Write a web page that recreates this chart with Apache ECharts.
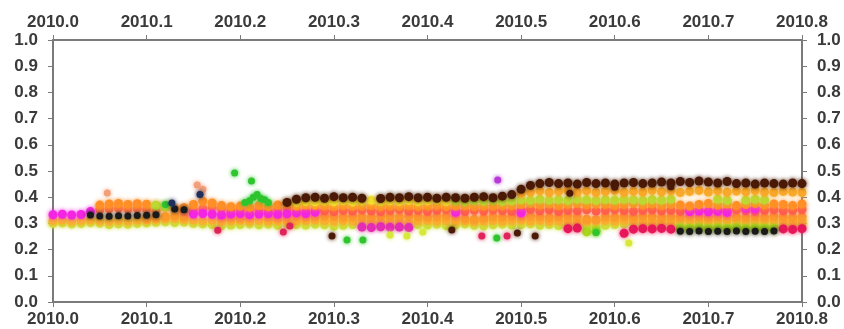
<!DOCTYPE html>
<html>
<head>
<meta charset="utf-8">
<script src="https://cdn.jsdelivr.net/npm/echarts@6/dist/echarts.min.js"></script>
<style>
  html, body { margin: 0; padding: 0; background: #fff; }
  #chart { width: 844px; height: 329px; }
</style>
</head>
<body>
<div id="chart"></div>
<script>
// sample times (decimal year)
const years = [
  2010.00, 2010.01, 2010.02, 2010.03, 2010.04, 2010.05, 2010.06, 2010.07, 2010.08, 2010.09,
  2010.10, 2010.11, 2010.12, 2010.13, 2010.14, 2010.15, 2010.16, 2010.17, 2010.18, 2010.19,
  2010.20, 2010.21, 2010.22, 2010.23, 2010.24, 2010.25, 2010.26, 2010.27, 2010.28, 2010.29,
  2010.30, 2010.31, 2010.32, 2010.33, 2010.34, 2010.35, 2010.36, 2010.37, 2010.38, 2010.39,
  2010.40, 2010.41, 2010.42, 2010.43, 2010.44, 2010.45, 2010.46, 2010.47, 2010.48, 2010.49,
  2010.50, 2010.51, 2010.52, 2010.53, 2010.54, 2010.55, 2010.56, 2010.57, 2010.58, 2010.59,
  2010.60, 2010.61, 2010.62, 2010.63, 2010.64, 2010.65, 2010.66, 2010.67, 2010.68, 2010.69,
  2010.70, 2010.71, 2010.72, 2010.73, 2010.74, 2010.75, 2010.76, 2010.77, 2010.78, 2010.79,
  2010.80
];
const n = null;

// one value per sample time for each station band
const lightGreen = [
  0.300, 0.302, 0.298, 0.300, 0.303, 0.301, 0.296, 0.298, 0.297, 0.300,
  0.302, 0.304, 0.306, 0.303, 0.305, 0.300, 0.298, 0.296, 0.292, 0.294,
  0.296, 0.298, 0.295, 0.297, 0.293, 0.298, 0.296, 0.294, 0.297, 0.295,
  0.290, 0.293, 0.296, 0.294, 0.297, 0.292, 0.295, 0.293, 0.290, 0.296,
  0.294, 0.297, 0.292, 0.295, 0.298, 0.293, 0.291, 0.295, 0.297, 0.294,
  0.296, 0.298, 0.293, 0.296, 0.292, 0.295, 0.297, 0.290, 0.286, 0.293,
  0.296, 0.298, 0.300, 0.297, 0.295, 0.298, 0.300, 0.290, 0.291, 0.290,
  0.292, 0.290, 0.291, 0.293, 0.290, 0.292, 0.291, 0.290, 0.294, 0.296,
  0.298
];
const baseOrange = [
  0.310, 0.312, 0.309, 0.311, 0.313, 0.310, 0.308, 0.311, 0.309, 0.312,
  0.314, 0.316, 0.318, 0.320, 0.316, 0.313, 0.310, 0.312, 0.308, 0.310,
  0.312, 0.309, 0.311, 0.308, 0.310, 0.312, 0.309, 0.311, 0.313, 0.310,
  0.308, 0.311, 0.309, 0.312, 0.310, 0.307, 0.311, 0.309, 0.306, 0.310,
  0.312, 0.309, 0.311, 0.308, 0.310, 0.307, 0.309, 0.311, 0.308, 0.310,
  0.312, 0.309, 0.311, 0.308, 0.310, 0.312, 0.309, 0.307, 0.310, 0.312,
  0.309, 0.311, 0.313, 0.310, 0.308, 0.311, 0.309, 0.312, 0.310, 0.308,
  0.311, 0.309, 0.312, 0.310, 0.308, 0.311, 0.309, 0.312, 0.310, 0.308,
  0.311
];
const midOrange = [
  n, n, n, n, n, n, n, n, n, n,
  0.318, 0.322, 0.326, 0.330, 0.325, n, n, n, 0.320, 0.322,
  0.320, 0.322, n, 0.323, 0.320, 0.324, 0.326, 0.323, 0.325, 0.328,
  0.326, 0.324, 0.327, 0.325, 0.323, 0.326, 0.328, 0.324, 0.327, 0.325,
  0.323, 0.326, 0.328, 0.324, 0.318, 0.316, 0.320, 0.326, 0.324, 0.327,
  0.325, 0.328, 0.326, 0.323, 0.326, 0.328, 0.325, 0.316, 0.314, 0.326,
  0.324, 0.327, 0.325, 0.328, 0.326, 0.323, 0.326, 0.324, 0.327, 0.325,
  0.323, 0.326, 0.328, 0.325, 0.323, 0.326, 0.324, 0.327, 0.325, 0.323,
  0.326
];
const salmon = [
  n, n, n, n, n, 0.352, 0.356, 0.358, 0.355, 0.357,
  0.354, 0.350, n, n, 0.345, 0.350, 0.356, 0.360, 0.355, 0.348,
  0.352, 0.356, 0.350, 0.347, 0.352, 0.355, 0.350, 0.346, n, n,
  n, n, n, n, n, n, n, n, n, n,
  n, n, n, n, n, n, n, n, n, n,
  n, n, n, n, n, n, n, n, n, n,
  n, n, n, n, n, n, n, n, n, n,
  n, n, n, n, n, n, n, n, n, n,
  n
];
const rose = [
  n, n, n, n, n, n, n, n, n, n,
  n, n, n, n, n, n, n, n, n, n,
  n, n, n, n, n, n, n, n, 0.350, 0.348,
  0.345, 0.350, 0.347, 0.352, 0.348, 0.345, 0.350, 0.353, 0.347, 0.350,
  0.346, 0.350, 0.353, 0.348, 0.345, 0.350, 0.347, 0.352, 0.349, 0.346,
  0.350, 0.353, 0.348, 0.352, 0.346, 0.350, 0.348, 0.352, 0.347, 0.350,
  0.353, 0.349, 0.346, 0.350, 0.352, 0.348, 0.350, 0.346, 0.352, 0.349,
  0.347, 0.351, 0.348, 0.352, 0.349, 0.346, 0.350, 0.352, 0.348, 0.350,
  0.353
];
const orange = [
  n, n, n, n, n, 0.370, 0.374, 0.376, 0.372, 0.375,
  0.373, 0.368, 0.362, 0.356, 0.360, 0.372, 0.385, 0.378, 0.368, 0.364,
  0.366, 0.362, 0.368, 0.364, 0.370, 0.374, 0.366, 0.370, 0.368, 0.366,
  0.364, 0.367, 0.365, 0.366, 0.368, 0.364, 0.366, 0.365, 0.367, 0.364,
  0.366, 0.368, 0.364, 0.366, 0.367, 0.364, 0.366, 0.365, 0.367, 0.368,
  0.372, 0.376, 0.370, 0.374, 0.368, 0.372, 0.376, 0.370, 0.374, 0.372,
  0.368, 0.372, 0.376, 0.370, 0.374, 0.368, 0.372, 0.370, 0.366, 0.372,
  0.376, 0.370, 0.374, 0.368, 0.372, 0.376, 0.370, 0.374, 0.372, 0.368,
  0.374
];
const magenta = [
  0.333, 0.335, 0.332, 0.334, 0.345, n, n, n, n, n,
  n, n, n, n, n, 0.336, 0.338, 0.335, 0.332, 0.336,
  0.338, 0.334, 0.336, 0.338, 0.335, 0.337, 0.340, 0.338, 0.343, n,
  n, n, n, n, n, n, n, n, n, n,
  n, n, n, 0.342, n, n, n, n, n, n,
  0.340, n, n, n, n, n, n, n, n, n,
  n, n, n, n, n, n, n, n, 0.345, 0.347,
  0.344, 0.346, 0.342, n, 0.358, 0.356, n, n, n, n,
  n
];
const upperYellow = [
  n, n, n, n, n, n, n, n, n, n,
  n, n, n, n, n, n, n, n, n, n,
  n, n, n, n, n, n, 0.380, 0.384, 0.382, 0.385,
  0.383, 0.386, 0.382, 0.385, 0.388, 0.383, 0.386, 0.384, 0.387, 0.383,
  0.386, 0.388, 0.384, n, n, n, n, n, n, n,
  n, n, n, n, n, n, n, n, n, n,
  n, n, n, n, n, n, n, n, n, n,
  n, n, n, n, n, n, n, n, n, n,
  n
];
const yellowGreen = [
  n, n, n, n, n, n, n, n, n, n,
  n, 0.368, 0.365, n, n, n, n, n, n, n,
  n, n, n, n, n, n, n, n, n, n,
  n, n, n, n, n, n, n, n, n, n,
  n, n, n, 0.386, 0.383, 0.387, 0.385, 0.388, 0.384, 0.386,
  0.390, 0.388, 0.392, 0.389, 0.391, 0.388, 0.392, 0.390, 0.388, 0.391,
  0.389, 0.392, 0.390, 0.388, 0.391, 0.389, 0.392, n, n, n,
  n, 0.392, 0.388, n, 0.389, 0.392, 0.390, n, n, n,
  n
];
const upperOrange = [
  n, n, n, n, n, n, n, n, n, n,
  n, n, n, n, n, n, n, n, n, n,
  n, n, n, n, n, n, n, n, n, n,
  n, n, n, n, n, n, n, n, n, n,
  n, n, n, n, n, n, n, n, n, n,
  0.415, 0.420, 0.424, 0.418, 0.422, 0.426, 0.420, 0.424, 0.418, 0.422,
  0.425, 0.419, 0.423, 0.420, 0.426, 0.421, 0.424, 0.418, 0.422, 0.426,
  0.420, 0.424, 0.419, 0.423, 0.421, 0.425, 0.420, 0.418, 0.422, 0.420,
  0.418
];
const brown = [
  n, n, n, n, n, n, n, n, n, n,
  n, n, n, n, n, n, n, n, n, n,
  n, n, n, n, n, 0.380, 0.392, 0.398, 0.400, 0.396,
  0.402, 0.398, 0.400, 0.396, n, 0.395, 0.400, 0.398, 0.402, 0.398,
  0.400, 0.396, 0.400, 0.398, 0.396, 0.400, 0.402, 0.398, 0.404, 0.410,
  0.430, 0.445, 0.452, 0.456, 0.452, 0.454, 0.450, 0.456, 0.452, 0.454,
  0.450, 0.454, 0.456, 0.452, 0.454, 0.458, 0.454, 0.460, 0.456, 0.462,
  0.458, 0.454, 0.460, 0.452, 0.454, 0.450, 0.454, 0.452, 0.450, 0.454,
  0.452
];
const black = [
  n, n, n, n, 0.332, 0.328, 0.327, 0.329, 0.328, 0.330,
  0.331, 0.333, n, 0.355, 0.352, n, n, n, n, n,
  n, n, n, n, n, n, n, n, n, n,
  n, n, n, n, n, n, n, n, n, n,
  n, n, n, n, n, n, n, n, n, n,
  n, n, n, n, n, n, n, n, n, n,
  n, n, n, n, n, n, n, 0.270, 0.269, 0.271,
  0.269, 0.270, 0.269, 0.271, 0.269, 0.270, 0.269, 0.271, n, n,
  n
];
const pinkLow = [
  n, n, n, n, n, n, n, n, n, n,
  n, n, n, n, n, n, n, n, n, n,
  n, n, n, n, n, n, n, n, n, n,
  n, n, n, 0.286, 0.284, 0.287, 0.285, 0.286, 0.284, n,
  n, n, n, n, n, n, n, n, n, n,
  n, n, n, n, n, n, n, n, n, n,
  n, n, n, n, n, n, n, n, n, n,
  n, n, n, n, n, n, n, n, n, n,
  n
];
const crimson = [
  n, n, n, n, n, n, n, n, n, n,
  n, n, n, n, n, n, n, n, n, n,
  n, n, n, n, n, n, n, n, n, n,
  n, n, n, n, n, n, n, n, n, n,
  n, n, n, n, n, n, n, n, n, n,
  n, n, n, n, n, 0.280, 0.282, n, n, n,
  n, 0.262, 0.278, 0.280, 0.279, 0.281, 0.278, n, n, n,
  n, n, n, n, n, n, n, n, 0.279, 0.277,
  0.280
];
const limeLow = [
  n, n, n, n, n, n, n, n, n, n,
  n, n, n, n, n, n, n, n, n, n,
  n, n, n, n, n, n, n, n, n, n,
  n, n, n, n, n, n, n, n, n, n,
  n, n, n, n, n, n, n, n, n, n,
  n, n, n, n, n, n, n, 0.268, 0.270, n,
  n, n, n, n, n, n, n, 0.282, 0.281, 0.283,
  0.280, 0.282, 0.281, 0.283, 0.280, 0.282, 0.281, 0.280, n, n,
  n
];

// isolated points [year, value]
const greenPoints = [
  [2010.194, 0.492], [2010.212, 0.462], [2010.205, 0.380], [2010.210, 0.386],
  [2010.214, 0.400], [2010.218, 0.410], [2010.222, 0.395], [2010.226, 0.390],
  [2010.230, 0.380], [2010.120, 0.372], [2010.314, 0.237], [2010.331, 0.237],
  [2010.474, 0.244], [2010.580, 0.265]
];
const brownPoints = [
  [2010.298, 0.252], [2010.426, 0.275], [2010.496, 0.263], [2010.515, 0.252],
  [2010.552, 0.415], [2010.600, 0.438], [2010.660, 0.440]
];
const crimsonPoints = [
  [2010.246, 0.267], [2010.176, 0.274], [2010.458, 0.252], [2010.485, 0.252],
  [2010.253, 0.290]
];
const salmonPoints = [
  [2010.058, 0.416], [2010.154, 0.447], [2010.160, 0.430], [2010.158, 0.415]
];
const navyPoints = [
  [2010.127, 0.378], [2010.157, 0.410]
];
const violetPoints = [
  [2010.475, 0.466]
];
const yellowPoints = [
  [2010.615, 0.225], [2010.378, 0.252], [2010.395, 0.267], [2010.360, 0.256]
];

function band(values) {
  return years.map((x, i) => values[i] == null ? null : [x, values[i]]).filter(Boolean);
}

const chart = echarts.init(document.getElementById('chart'));

const labelStyle = {
  color: '#3a3a3a',
  fontSize: 17,
  fontWeight: 'bold',
  fontFamily: 'Liberation Sans, Arial, sans-serif'
};
const lineStyle = { color: '#7a7a7a', width: 2 };

function xAxis(position) {
  return {
    type: 'value', position: position, min: 2010, max: 2010.8, interval: 0.1,
    axisLine: { show: true, onZero: false, lineStyle: lineStyle },
    axisTick: { show: true, length: 5, lineStyle: { color: '#7a7a7a' } },
    axisLabel: Object.assign({ margin: 9, formatter: v => v.toFixed(1) }, labelStyle),
    splitLine: { show: false }
  };
}
function yAxis(position) {
  return {
    type: 'value', position: position, min: 0, max: 1, interval: 0.1,
    axisLine: { show: true, onZero: false, lineStyle: lineStyle },
    axisTick: { show: true, length: 5, lineStyle: { color: '#7a7a7a' } },
    axisLabel: Object.assign({ margin: 15, formatter: v => v.toFixed(1) }, labelStyle),
    splitLine: { show: false }
  };
}

function scatter(data, color, size) {
  return {
    type: 'scatter', data: data, symbolSize: size,
    itemStyle: { color: color, opacity: 1, shadowBlur: 4, shadowColor: color },
    xAxisIndex: 0, yAxisIndex: 0, silent: true
  };
}

const option = {
  animation: false,
  backgroundColor: '#fff',
  grid: { left: 53, right: 42, top: 40, bottom: 27 },
  xAxis: [xAxis('bottom'), xAxis('top')],
  yAxis: [yAxis('left'), yAxis('right')],
  series: [
    scatter(band(lightGreen), '#cbe03a', 9),
    scatter(band(baseOrange), '#f9b030', 9),
    scatter(band(midOrange), '#fb9a2c', 9),
    scatter(band(limeLow), '#a9d61e', 9),
    scatter(band(pinkLow), '#e42cb4', 9),
    scatter(band(crimson), '#e8175a', 9),
    scatter(band(salmon), '#ff7448', 9),
    scatter(band(rose), '#ff5c50', 9),
    scatter(band(magenta), '#f325e2', 9),
    scatter(band(orange), '#ff8f26', 9),
    scatter(band(upperYellow), '#f2e030', 9),
    scatter(band(yellowGreen), '#bcd832', 9),
    scatter(band(upperOrange), '#f9a92a', 9),
    scatter(band(black), '#1a1a1a', 7),
    scatter(band(brown), '#4b1a06', 9),
    scatter(greenPoints, '#2ec52e', 7),
    scatter(brownPoints, '#4b1a06', 7),
    scatter(crimsonPoints, '#e0245a', 7),
    scatter(salmonPoints, '#f3a07a', 7),
    scatter(navyPoints, '#1d2f5a', 7),
    scatter(violetPoints, '#b63ad8', 7),
    scatter(yellowPoints, '#d7e83a', 7)
  ]
};

chart.setOption(option);
</script>
</body>
</html>
